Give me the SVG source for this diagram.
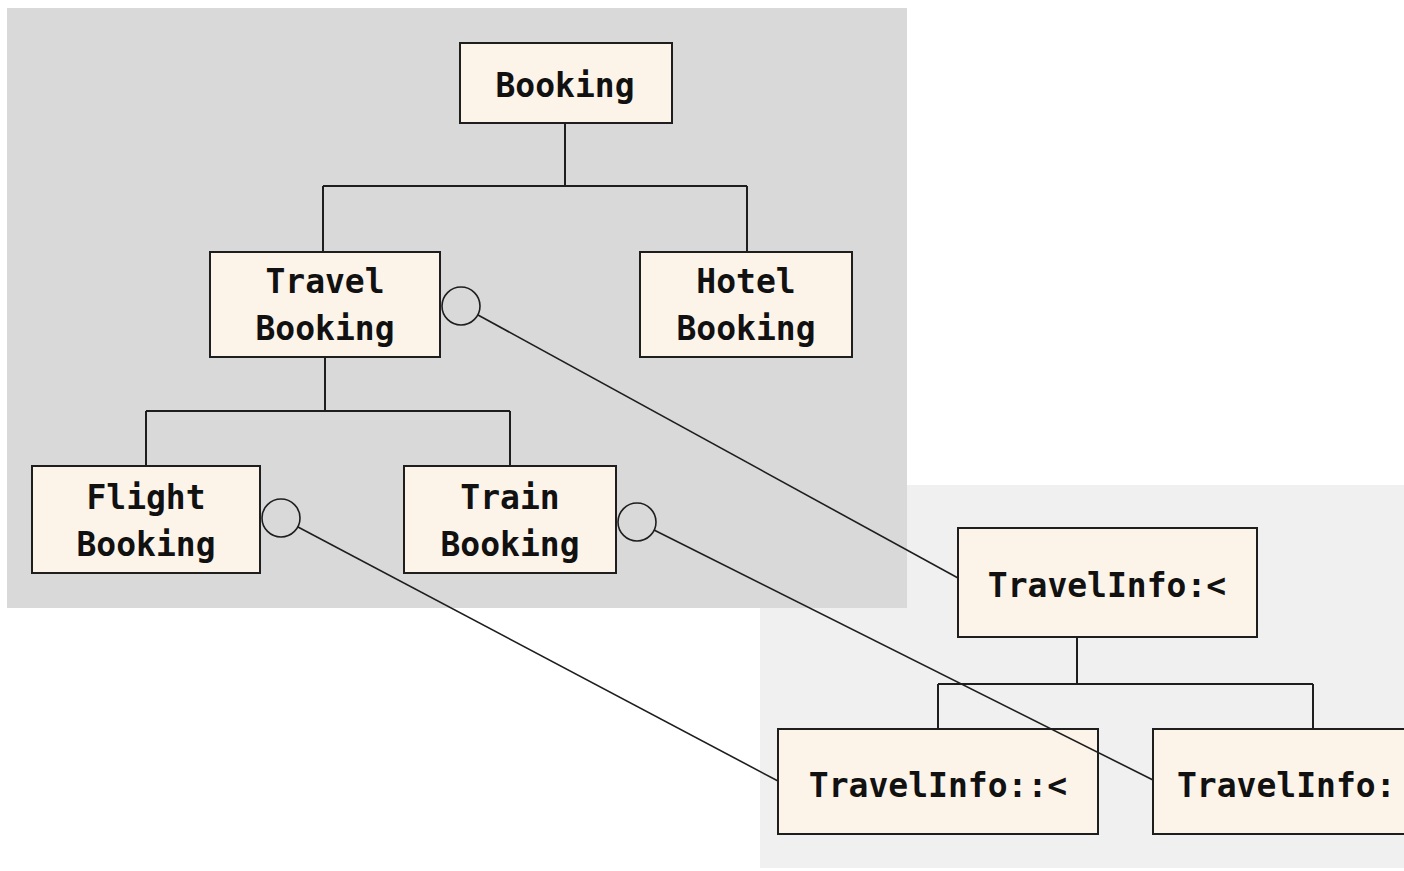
<svg xmlns="http://www.w3.org/2000/svg" width="1404" height="871" viewBox="0 0 1404 871">
<style>
.box{fill:#fdf4e9;stroke:#1e1e1e;stroke-width:2}
.t{font-family:"DejaVu Sans Mono","Liberation Mono",monospace;font-weight:bold;font-size:33px;fill:#111;text-anchor:middle}
.tree{fill:none;stroke:#1e1e1e;stroke-width:2}
.conn{fill:none;stroke:#1e1e1e;stroke-width:1.6}
.port{fill:none;stroke:#1e1e1e;stroke-width:1.6}
</style>
<rect x="0" y="0" width="1404" height="871" fill="#ffffff"/>
<rect id="panel-info" x="760" y="485" width="644" height="383" fill="#f0f0f0"/>
<rect id="panel-booking" x="7" y="8" width="900" height="600" fill="#d9d9d9"/>
<g id="tree-lines">
<path class="tree" d="M565 123 V186 M323 186 H747 M323 186 V251 M747 186 V251"/>
<path class="tree" d="M325 357 V411 M146 411 H510 M146 411 V466 M510 411 V466"/>
<path class="tree" d="M1077 637 V684 M938 684 H1313 M938 684 V729 M1313 684 V729"/>
</g>
<g id="booking"><rect class="box" x="460" y="43" width="212" height="80"/><text class="t" x="565" y="97">Booking</text></g>
<g id="travel-booking"><rect class="box" x="210" y="252" width="230" height="105"/><text class="t" x="325" y="293">Travel</text><text class="t" x="325" y="340">Booking</text><circle class="port" cx="461" cy="306" r="19"/></g>
<g id="hotel-booking"><rect class="box" x="640" y="252" width="212" height="105"/><text class="t" x="746" y="293">Hotel</text><text class="t" x="746" y="340">Booking</text></g>
<g id="flight-booking"><rect class="box" x="32" y="466" width="228" height="107"/><text class="t" x="146" y="509">Flight</text><text class="t" x="146" y="556">Booking</text><circle class="port" cx="281" cy="518" r="19"/></g>
<g id="train-booking"><rect class="box" x="404" y="466" width="212" height="107"/><text class="t" x="510" y="509">Train</text><text class="t" x="510" y="556">Booking</text><circle class="port" cx="637" cy="522" r="19"/></g>
<g id="travelinfo-root"><rect class="box" x="958" y="528" width="299" height="109"/><text class="t" x="1107" y="597">TravelInfo:&lt;</text></g>
<g id="travelinfo-left"><rect class="box" x="778" y="729" width="320" height="105"/><text class="t" x="938" y="797">TravelInfo::&lt;</text></g>
<g id="travelinfo-right"><rect class="box" x="1153" y="729" width="260" height="105"/><text class="t" x="1177" y="797" style="text-anchor:start">TravelInfo:</text></g>
<g id="connectors">
<line class="conn" x1="478" y1="315" x2="958" y2="578"/>
<line class="conn" x1="298" y1="527" x2="778" y2="781"/>
<line class="conn" x1="654" y1="530" x2="1153" y2="780"/>
</g>
</svg>
